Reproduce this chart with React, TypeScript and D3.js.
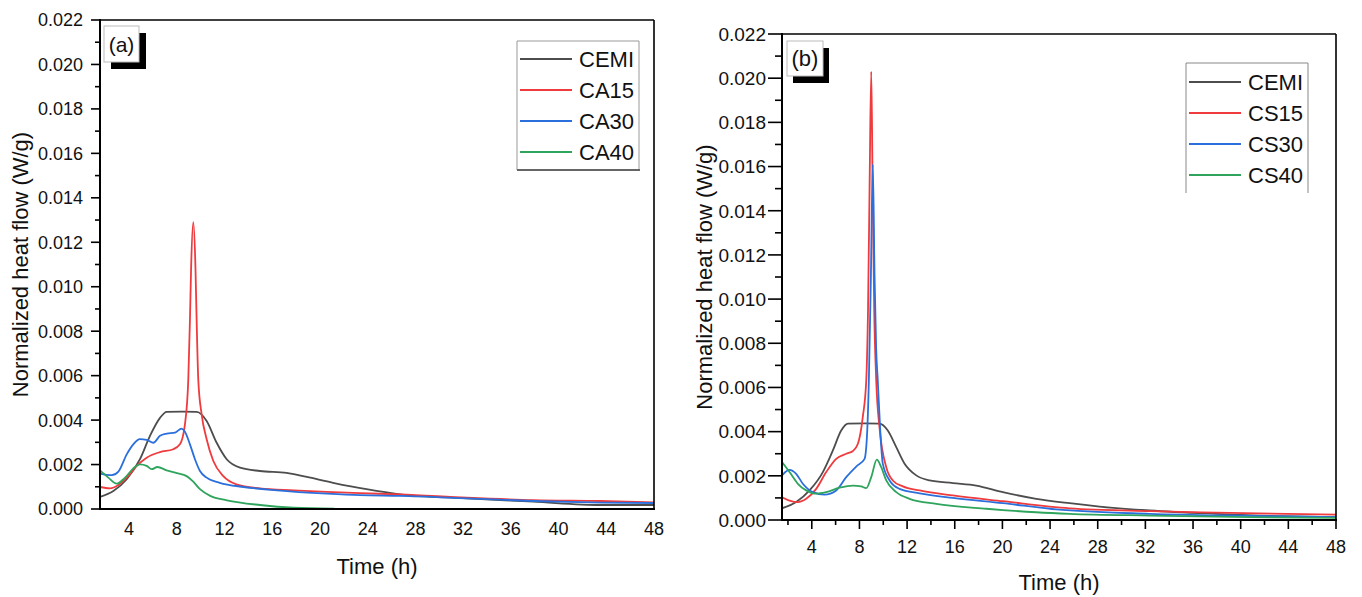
import React from "react";
import * as d3 from "d3";

// ---------- DATA ----------
const xTicks = [4, 8, 12, 16, 20, 24, 28, 32, 36, 40, 44, 48];
const yTicks = [0, 0.002, 0.004, 0.006, 0.008, 0.01, 0.012, 0.014, 0.016, 0.018, 0.02, 0.022];

// Panel (a)
const cemiA: [number, number][] = [
  [1.56, 0.00054], [2.68, 0.00081], [3.8, 0.00134], [4.91, 0.00224], [5.75, 0.00329], [6.59, 0.0041],
  [7.15, 0.00437], [8.4, 0.00438], [9.67, 0.00437], [10.5, 0.00396], [11.34, 0.00298], [12.18, 0.00224],
  [13.3, 0.00186], [14.97, 0.00171], [17.2, 0.00163], [18.9, 0.00144], [21.1, 0.00118], [23.9, 0.00089],
  [26.7, 0.00066], [32.3, 0.00048], [37.9, 0.00033], [43.5, 0.00018], [48, 0.00018],
];
const ca15: [number, number][] = [
  [1.56, 0.00099], [2.4, 0.00093], [3.1, 0.00108], [3.8, 0.00141], [4.64, 0.00194], [5.47, 0.00231],
  [6.59, 0.00256], [7.7, 0.00269], [8.26, 0.00291], [8.68, 0.00381], [8.96, 0.0058], [9.1, 0.0085],
  [9.2, 0.0109], [9.38, 0.0129], [9.56, 0.0109], [9.66, 0.0085], [9.8, 0.0058], [10.08, 0.00426],
  [10.5, 0.00314], [11.06, 0.00216], [11.9, 0.00148], [13.0, 0.00111], [14.97, 0.00093], [17.8, 0.00084],
  [23.35, 0.00071], [26.7, 0.00066], [32.3, 0.00051], [37.9, 0.0004], [43.5, 0.00036], [48, 0.0003],
];
const ca30: [number, number][] = [
  [1.56, 0.00159], [2.54, 0.00152], [3.1, 0.00168], [3.8, 0.00246], [4.35, 0.00291], [4.91, 0.00314],
  [5.47, 0.00311], [6.03, 0.00298], [6.59, 0.00329], [7.15, 0.00339], [7.85, 0.00344], [8.4, 0.00362],
  [8.68, 0.00348], [9.1, 0.00291], [9.52, 0.00224], [9.94, 0.00171], [10.5, 0.00141], [11.6, 0.00118],
  [13.6, 0.00099], [16.4, 0.00084], [20.6, 0.00069], [23.35, 0.00062], [26.7, 0.00059], [32.3, 0.00048],
  [37.9, 0.00036], [43.5, 0.00029], [48, 0.00027],
];
const ca40: [number, number][] = [
  [1.56, 0.00174], [2.26, 0.00141], [2.96, 0.00114], [3.66, 0.00141], [4.35, 0.00183], [4.91, 0.00201],
  [5.47, 0.00194], [5.89, 0.00179], [6.37, 0.00189], [7.15, 0.00174], [7.99, 0.00161], [8.82, 0.00148],
  [9.38, 0.00123], [9.94, 0.00089], [10.8, 0.00059], [12.2, 0.00039], [14.97, 0.00018], [17.8, 0.00006],
  [21.2, 0.00002],
];

// Panel (b)
const cemiB: [number, number][] = [
  [1.5, 0.00053], [2.69, 0.00081], [3.81, 0.00134], [4.93, 0.00217], [5.77, 0.00315], [6.47, 0.00405],
  [7.03, 0.00436], [8.4, 0.00437], [9.69, 0.00436], [10.38, 0.00405], [11.09, 0.0033], [11.79, 0.00255],
  [12.77, 0.00202], [13.88, 0.00179], [15.84, 0.00167], [17.8, 0.00156], [20.04, 0.00126], [22.84, 0.00096],
  [25.64, 0.00076], [28.16, 0.00061], [32.36, 0.00043], [37.96, 0.00028], [43.55, 0.00017], [48, 0.00013],
];
const cs15: [number, number][] = [
  [1.5, 0.00103], [2.13, 0.00088], [2.83, 0.00081], [3.53, 0.00096], [4.37, 0.00141], [5.21, 0.00217],
  [6.05, 0.00277], [6.89, 0.003], [7.45, 0.00312], [7.87, 0.00345], [8.28, 0.00466], [8.57, 0.0063],
  [8.72, 0.0095], [8.86, 0.0155], [8.99, 0.0203], [9.1, 0.0155], [9.24, 0.0095], [9.41, 0.0063],
  [9.7, 0.0041], [10.25, 0.00239], [10.8, 0.00179], [11.64, 0.00152], [13.05, 0.00134], [15.84, 0.00111],
  [20.04, 0.00085], [25.64, 0.00053], [32.36, 0.0004], [37.96, 0.00033], [48, 0.00024],
];
const cs30: [number, number][] = [
  [1.5, 0.00202], [2.13, 0.00227], [2.69, 0.00209], [3.25, 0.00164], [4.09, 0.00126], [5.07, 0.00115],
  [6.05, 0.00134], [6.89, 0.00194], [7.73, 0.00242], [8.43, 0.00277], [8.65, 0.0040], [8.79, 0.0063],
  [8.96, 0.011], [9.12, 0.0161], [9.27, 0.011], [9.4, 0.0078], [9.54, 0.0063], [9.75, 0.0040],
  [9.96, 0.00255], [10.53, 0.00179], [11.37, 0.00141], [13.05, 0.00121], [15.84, 0.001], [20.04, 0.00076],
  [24.5, 0.00048], [32.36, 0.00028], [40.75, 0.00019], [48, 0.00013],
];
const cs40: [number, number][] = [
  [1.5, 0.00262], [2.13, 0.00217], [2.83, 0.00164], [3.53, 0.00134], [4.37, 0.00119], [5.21, 0.00126],
  [6.33, 0.00146], [7.45, 0.00156], [8.15, 0.00152], [8.57, 0.00144], [8.99, 0.00194], [9.46, 0.00273],
  [9.83, 0.00239], [10.25, 0.00179], [11.09, 0.00126], [12.2, 0.00096], [14.45, 0.00073], [18.65, 0.00051],
  [22.84, 0.00035], [25.64, 0.00028], [32.36, 0.0002], [40.75, 0.00013], [48, 0.0001],
];

const namesA = ["CEMI", "CA15", "CA30", "CA40"];
const namesB = ["CEMI", "CS15", "CS30", "CS40"];
const colors = ["#4d4d4d", "#ef3b3e", "#2a6fdc", "#2ea45c"];

const FONT = "Arial, 'Liberation Sans', sans-serif";

type Panel = {
  id: string;
  label: string;
  left: number; right: number; top: number; bottom: number;
  x0: number;
  series: [number, number][][];
  names: string[];
  xTicksShown: boolean;
  yFont: number; xFont: number;
  yTickLen: number; yMinorLen: number; yLabelGap: number;
  xLabelY: number; xTitleY: number; yTitleX: number;
  legend: { x: number; y: number; w: number; h: number; row0: number; rowGap: number; closed: boolean };
  box: { x: number; y: number; w: number; h: number; dx: number; dy: number; font: number; base: number };
};

const panels: Panel[] = [
  {
    id: "a", label: "(a)", left: 100, right: 654, top: 20, bottom: 509, x0: 1.56,
    series: [cemiA, ca15, ca30, ca40], names: namesA, xTicksShown: false,
    yFont: 18, xFont: 18, yTickLen: 9, yMinorLen: 5, yLabelGap: 8,
    xLabelY: 535, xTitleY: 574, yTitleX: 28,
    legend: { x: 517, y: 41, w: 122, h: 129, row0: 59, rowGap: 31, closed: true },
    box: { x: 104, y: 26, w: 35, h: 36, dx: 7, dy: 7, font: 21, base: 52 },
  },
  {
    id: "b", label: "(b)", left: 782, right: 1336, top: 34, bottom: 520, x0: 1.5,
    series: [cemiB, cs15, cs30, cs40], names: namesB, xTicksShown: true,
    yFont: 19, xFont: 18, yTickLen: 14, yMinorLen: 7, yLabelGap: 2,
    xLabelY: 553, xTitleY: 590, yTitleX: 712,
    legend: { x: 1186, y: 63, w: 122, h: 130, row0: 82, rowGap: 31, closed: false },
    box: { x: 787, y: 41, w: 36, h: 35, dx: 6, dy: 7, font: 22, base: 66 },
  },
];

function PanelView({ p }: { p: Panel }) {
  const x = d3.scaleLinear().domain([p.x0, 48]).range([p.left, p.right]);
  const y = d3.scaleLinear().domain([0, 0.022]).range([p.bottom, p.top]);
  const line = d3
    .line<[number, number]>()
    .x((d) => x(d[0]))
    .y((d) => y(d[1]))
    .curve(d3.curveMonotoneX);
  const minorY = d3.range(0.001, 0.022, 0.002);
  const minorX = d3.range(2, 48, 4);
  const fmt = d3.format(".3f");
  const lg = p.legend;
  return (
    <g>
      <defs>
        <clipPath id={"clip" + p.id}>
          <rect x={p.left} y={p.top} width={p.right - p.left} height={p.bottom - p.top} />
        </clipPath>
      </defs>
      {/* series */}
      <g clipPath={`url(#clip${p.id})`}>
        {p.series.map((s, i) => (
          <path key={i} d={line(s) || ""} fill="none" stroke={colors[i]} strokeWidth={1.8} strokeLinejoin="round" />
        ))}
      </g>
      {/* frame */}
      <line x1={p.left} x2={p.right} y1={p.top} y2={p.top} stroke="#000" strokeWidth={1.6} />
      <line x1={p.right} x2={p.right} y1={p.top} y2={p.bottom} stroke="#000" strokeWidth={1.6} />
      <line x1={p.left} x2={p.left} y1={p.top - 1} y2={p.bottom + 1} stroke="#000" strokeWidth={2} />
      <line x1={p.left - 1} x2={p.right + 1} y1={p.bottom} y2={p.bottom} stroke="#000" strokeWidth={2} />
      {/* y ticks */}
      {yTicks.map((t) => (
        <g key={t}>
          <line x1={p.left - p.yTickLen} x2={p.left} y1={y(t)} y2={y(t)} stroke="#000" strokeWidth={1.6} />
          <text
            x={p.left - p.yTickLen - p.yLabelGap}
            y={y(t)}
            dy="0.36em"
            textAnchor="end"
            fontSize={p.yFont}
            fontFamily={FONT}
            fill="#111"
          >
            {fmt(t)}
          </text>
        </g>
      ))}
      {minorY.map((t) => (
        <line key={t} x1={p.left - p.yMinorLen} x2={p.left} y1={y(t)} y2={y(t)} stroke="#000" strokeWidth={1.6} />
      ))}
      {/* x ticks */}
      {xTicks.map((t) => (
        <g key={t}>
          {p.xTicksShown && (
            <line x1={x(t)} x2={x(t)} y1={p.bottom} y2={p.bottom + 9} stroke="#000" strokeWidth={1.6} />
          )}
          <text x={x(t)} y={p.xLabelY} textAnchor="middle" fontSize={p.xFont} fontFamily={FONT} fill="#111">
            {t}
          </text>
        </g>
      ))}
      {p.xTicksShown &&
        minorX.map((t) => (
          <line key={t} x1={x(t)} x2={x(t)} y1={p.bottom} y2={p.bottom + 5} stroke="#000" strokeWidth={1.6} />
        ))}
      {/* titles */}
      <text
        x={(p.left + p.right) / 2}
        y={p.xTitleY}
        textAnchor="middle"
        fontSize={22}
        fontFamily={FONT}
        fill="#111"
      >
        Time (h)
      </text>
      <text
        transform={`translate(${p.yTitleX},${(p.top + p.bottom) / 2}) rotate(-90)`}
        textAnchor="middle"
        fontSize={22}
        fontFamily={FONT}
        fill="#111"
      >
        Normalized heat flow (W/g)
      </text>
      {/* panel label */}
      <rect x={p.box.x + p.box.dx} y={p.box.y + p.box.dy} width={p.box.w} height={p.box.h} fill="#000" />
      <rect x={p.box.x} y={p.box.y} width={p.box.w} height={p.box.h} fill="#fff" stroke="#bbb" strokeWidth={1} />
      <text
        x={p.box.x + p.box.w / 2}
        y={p.box.base}
        textAnchor="middle"
        fontSize={p.box.font}
        fontFamily={FONT}
        fill="#111"
      >
        {p.label}
      </text>
      {/* legend */}
      <rect x={lg.x} y={lg.y} width={lg.w} height={lg.h} fill="#fff" stroke="none" />
      {lg.closed ? (
        <g>
          <path
            d={`M${lg.x},${lg.y + lg.h} V${lg.y} H${lg.x + lg.w} V${lg.y + lg.h}`}
            fill="none"
            stroke="#999"
            strokeWidth={1}
          />
          <line x1={lg.x} x2={lg.x + lg.w + 1} y1={lg.y + lg.h} y2={lg.y + lg.h} stroke="#666" strokeWidth={2} />
        </g>
      ) : (
        <path
          d={`M${lg.x},${lg.y + lg.h} V${lg.y} H${lg.x + lg.w} V${lg.y + lg.h}`}
          fill="none"
          stroke="#888"
          strokeWidth={1}
        />
      )}
      {p.names.map((n, i) => {
        const cy = lg.row0 + i * lg.rowGap;
        return (
          <g key={n}>
            <line x1={lg.x + 3} x2={lg.x + 55} y1={cy} y2={cy} stroke={colors[i]} strokeWidth={2} />
            <text x={lg.x + 62} y={cy} dy="0.36em" fontSize={22} fontFamily={FONT} fill="#111">
              {n}
            </text>
          </g>
        );
      })}
    </g>
  );
}

export default function App() {
  return (
    <svg
      width={1362}
      height={597}
      style={{ position: "absolute", left: 0, top: 0, background: "#fff" }}
    >
      <rect width={1362} height={597} fill="#fff" />
      {panels.map((p) => (
        <PanelView key={p.id} p={p} />
      ))}
    </svg>
  );
}
